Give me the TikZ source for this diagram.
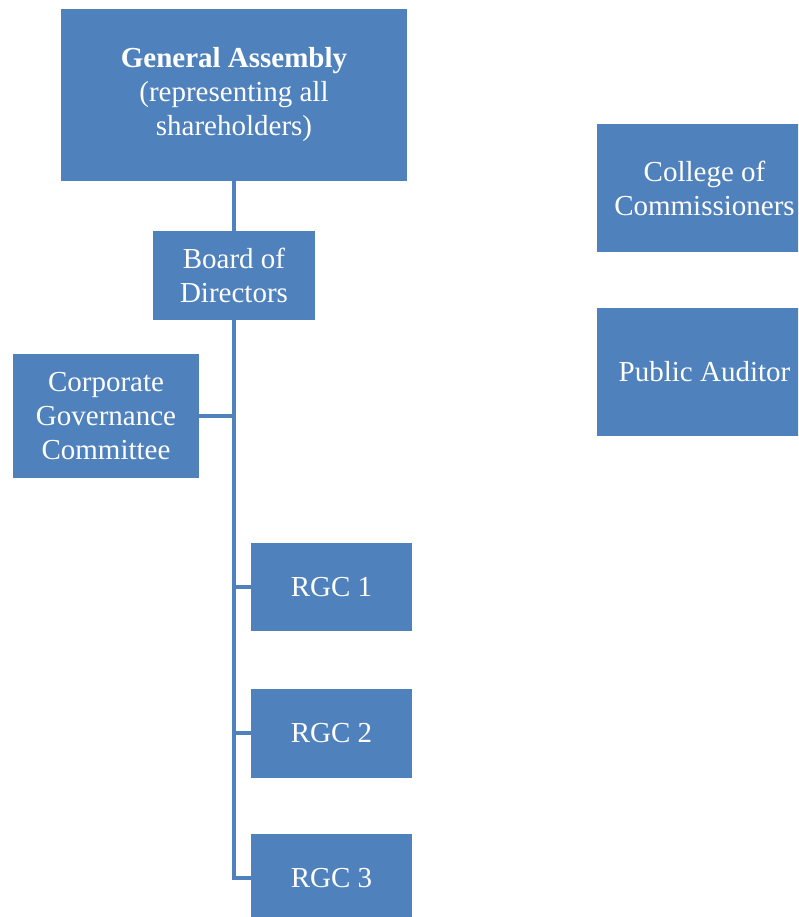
\documentclass[tikz,border=0pt]{standalone}
\usepackage{fontspec}
\setmainfont{Liberation Serif}
\definecolor{orgblue}{RGB}{79,129,189}
\tikzset{
  orgbox/.style={fill=orgblue, text=white, align=center, inner sep=0pt,
    font=\fontsize{29}{34}\selectfont},
  orgline/.style={draw=orgblue, line width=3.5pt}
}
\begin{document}
\begin{tikzpicture}[x=1pt,y=-1pt]
\useasboundingbox (0,0) rectangle (798,917);
\clip (0,0) rectangle (798,917);
% board and assembly
\node[orgbox, minimum width=346pt, minimum height=172pt] (ga) at (234,95)
  {\textbf{General Assembly}\\(representing all\\shareholders)};
\node[orgbox, minimum width=162pt, minimum height=89pt] (bod) at (234,275.5)
  {Board of\\Directors};
\node[orgbox, minimum width=186pt, minimum height=124pt] (cgc) at (106,416)
  {Corporate\\Governance\\Committee};
% regional committees
\node[orgbox, minimum width=161pt, minimum height=88pt] (rgc1) at (331.5,587) {RGC 1};
\node[orgbox, minimum width=161pt, minimum height=89pt] (rgc2) at (331.5,733) {RGC 2};
\node[orgbox, minimum width=161pt, minimum height=89pt] (rgc3) at (331.5,878) {RGC 3};
% supervisors
\node[orgbox, minimum width=215pt, minimum height=128pt] (coc) at (704.5,188)
  {College of\\Commissioners};
\node[orgbox, minimum width=215pt, minimum height=128pt] (pa) at (704.5,372)
  {Public Auditor};
% connectors
\draw[orgline] (ga) -- (bod);
\draw[orgline] (bod.south) |- (cgc.east)
               (bod.south) |- (rgc1.west)
               (bod.south) |- (rgc2.west)
               (bod.south) |- (rgc3.west);
\end{tikzpicture}
\end{document}
